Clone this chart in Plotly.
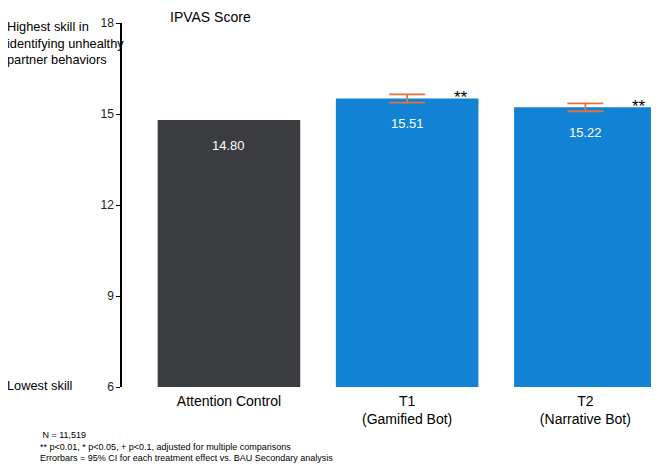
import plotly.graph_objects as go

groups = ['Attention Control', 'T1<br>(Gamified Bot)', 'T2<br>(Narrative Bot)']
scores = [14.80, 15.51, 15.22]
ci_half = [None, 0.135, 0.13]
stars = ['', '**', '**']
bar_colors = ['#3b3c40', '#1282d4', '#1282d4']
y_ticks = [6, 9, 12, 15, 18]

FONT = 'Liberation Sans, Arial, sans-serif'


def ipvas_chart():
    xs = list(range(len(groups)))
    fig = go.Figure()
    fig.add_trace(go.Bar(x=xs, y=scores, marker_color=bar_colors, marker_line_width=0,
                         width=0.8, hoverinfo='skip'))
    # error bars only for the treatment arms
    ex = [x for x, e in zip(xs, ci_half) if e is not None]
    ey = [s for s, e in zip(scores, ci_half) if e is not None]
    ee = [e for e in ci_half if e is not None]
    fig.add_trace(go.Scatter(x=ex, y=ey, mode='markers', marker=dict(size=0.1, opacity=0),
                             error_y=dict(type='data', array=ee, color='#e0743f',
                                          thickness=1.8, width=18),
                             hoverinfo='skip'))

    for x, s in zip(xs, scores):
        fig.add_annotation(x=x, y=s, text=f'{s:.2f}', showarrow=False, yshift=-25,
                           font=dict(family=FONT, size=13, color='white'))
    for x, s, e, st in zip(xs, scores, ci_half, stars):
        if st:
            fig.add_annotation(x=x + 0.3, y=s + e, text=st, showarrow=False, yshift=-3,
                               font=dict(family=FONT, size=17, color='black'))

    fig.add_annotation(xref='paper', yref='paper', x=0.164, y=1.017, text='IPVAS Score',
                       xanchor='center', yanchor='middle',
                       showarrow=False, font=dict(family=FONT, size=14, color='black'))
    fig.add_annotation(xref='paper', yref='paper', x=-0.218, y=1.016, xanchor='left',
                       yanchor='top', align='left', showarrow=False,
                       text='Highest skill in<br>identifying unhealthy<br>partner behaviors',
                       font=dict(family=FONT, size=12.8, color='black'))
    fig.add_annotation(xref='paper', yref='paper', x=-0.218, y=0.005, xanchor='left',
                       yanchor='middle', showarrow=False, text='Lowest skill',
                       font=dict(family=FONT, size=12.8, color='black'))
    fig.add_annotation(xref='paper', yref='paper', x=-0.156, y=-0.112, xanchor='left',
                       yanchor='top', align='left', showarrow=False,
                       text=' N = 11,519<br>** p<0.01, * p<0.05, + p<0.1, adjusted for multiple comparisons'
                            '<br>Errorbars = 95% CI for each treatment effect vs. BAU Secondary analysis',
                       font=dict(family=FONT, size=9, color='black'))

    # the page puts the figure 8px in from the top-left corner
    fig.update_layout(
        width=659, height=470,
        margin=dict(l=114, r=8, t=13, b=91),
        plot_bgcolor='white', paper_bgcolor='white',
        showlegend=False,
        bargap=0.2,
        font=dict(family=FONT),
    )
    fig.update_xaxes(range=[-0.6, 2.413], tickvals=xs, ticktext=groups, showgrid=False,
                     zeroline=False, showline=False, ticks='', ticklabelstandoff=4,
                     tickfont=dict(family=FONT, size=14, color='black'))
    fig.update_yaxes(range=[6, 18], tickvals=y_ticks, showgrid=False, zeroline=False,
                     showline=True, linecolor='black', linewidth=1.5, ticks='outside',
                     ticklen=4, tickcolor='black', tickwidth=1.2,
                     tickfont=dict(family=FONT, size=12, color='#222222'))
    fig.write_html('out.html')


def main():
    ipvas_chart()


if __name__ == '__main__':
    main()
